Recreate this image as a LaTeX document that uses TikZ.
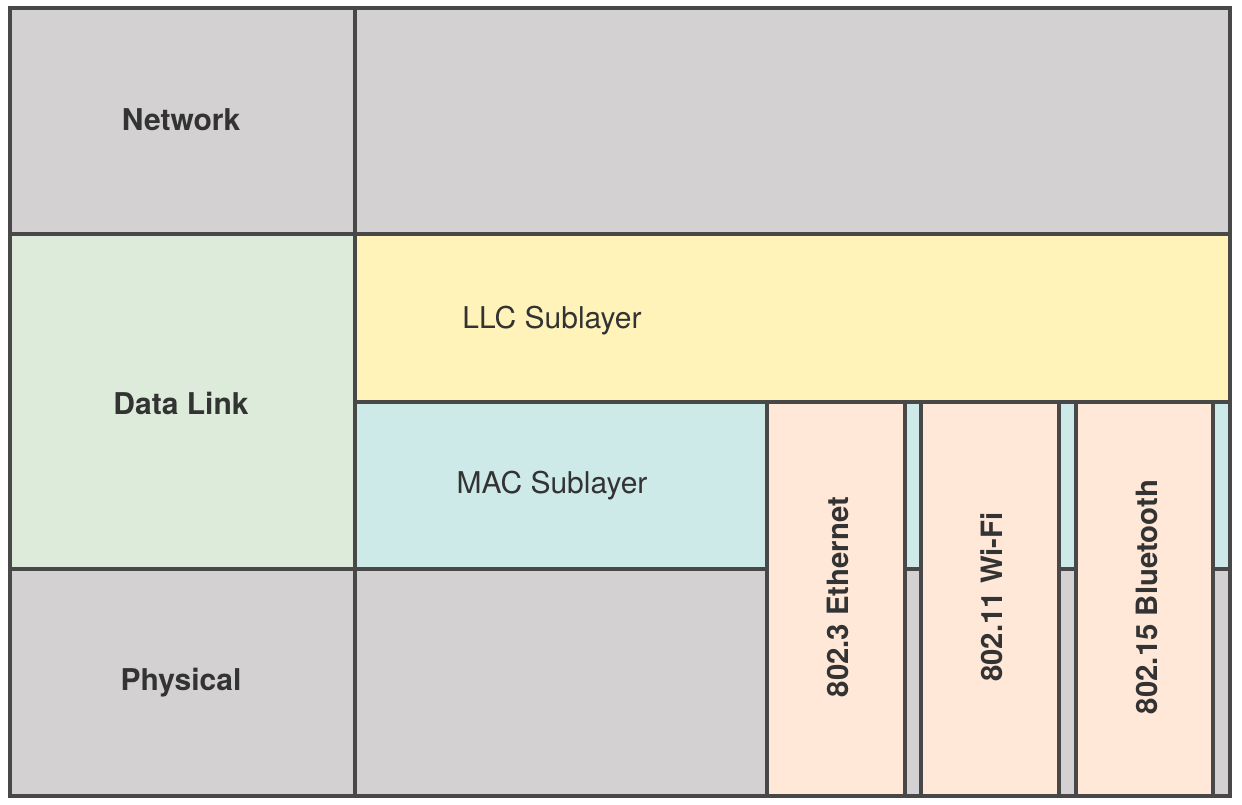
\documentclass[tikz,border=0pt]{standalone}
\usepackage{fontspec}
\setmainfont{TeX Gyre Heros}
\definecolor{layergray}{RGB}{211,209,210}
\definecolor{linkgreen}{RGB}{220,235,218}
\definecolor{llcyellow}{RGB}{255,243,186}
\definecolor{macblue}{RGB}{205,233,232}
\definecolor{stdorange}{RGB}{255,232,215}
\definecolor{edgegray}{RGB}{72,72,72}
\definecolor{textgray}{RGB}{51,51,51}
\tikzset{every picture/.style={line width=3.2pt}}
\tikzset{
  layerlabel/.style={text=textgray, font=\bfseries\fontsize{22.5}{27}\selectfont},
  sublabel/.style={text=textgray, font=\fontsize{22.5}{27}\selectfont},
  stdlabel/.style={text=textgray, rotate=90, font=\bfseries\fontsize{22}{26}\selectfont}
}

\begin{document}
\begin{tikzpicture}[x=0.75pt,y=0.75pt,yscale=-1,xscale=1]
\useasboundingbox (0,0) rectangle (1242,804);

%Shape: Rectangle - background layers
\fill [layergray] (10,8) rectangle (1230,796) ;
%Shape: Rectangle - data link
\fill [linkgreen] (10,234) rectangle (355,569) ;
%Shape: Rectangle - llc
\fill [llcyellow] (355,234) rectangle (1230,402) ;
%Shape: Rectangle - mac
\fill [macblue] (355,402) rectangle (1230,569) ;

%Shape: Rectangle - standards
\draw [color=edgegray, fill=stdorange] (767,402) rectangle (905,796) ;
\draw [color=edgegray, fill=stdorange] (921,402) rectangle (1059,796) ;
\draw [color=edgegray, fill=stdorange] (1076,402) rectangle (1213,796) ;

%Straight Lines
\draw [color=edgegray] (355,8) -- (355,796) ;
\draw [color=edgegray] (10,234) -- (1230,234) ;
\draw [color=edgegray] (355,402) -- (1230,402) ;
\draw [color=edgegray] (10,569) -- (767,569) ;
\draw [color=edgegray] (905,569) -- (921,569) ;
\draw [color=edgegray] (1059,569) -- (1076,569) ;
\draw [color=edgegray] (1213,569) -- (1230,569) ;
%Shape: Rectangle - frame
\draw [color=edgegray] (10,8) rectangle (1230,796) ;

% Text Node
\draw (181,120) node [layerlabel] (network) {Network};
% Text Node
\draw (181,403) node [layerlabel] (datalink) {Data Link};
% Text Node
\draw (181,683) node [layerlabel] (physical) {Physical};
% Text Node
\draw (552,321) node [sublabel] (llc) {LLC Sublayer};
% Text Node
\draw (552,486) node [sublabel] (mac) {MAC Sublayer};
% Text Node
\draw (838,597) node [stdlabel] (ethernet) {802.3 Ethernet};
% Text Node
\draw (992,597) node [stdlabel] (wifi) {802.11 Wi-Fi};
% Text Node
\draw (1147,597) node [stdlabel] (bluetooth) {802.15 Bluetooth};

\end{tikzpicture}
\end{document}
